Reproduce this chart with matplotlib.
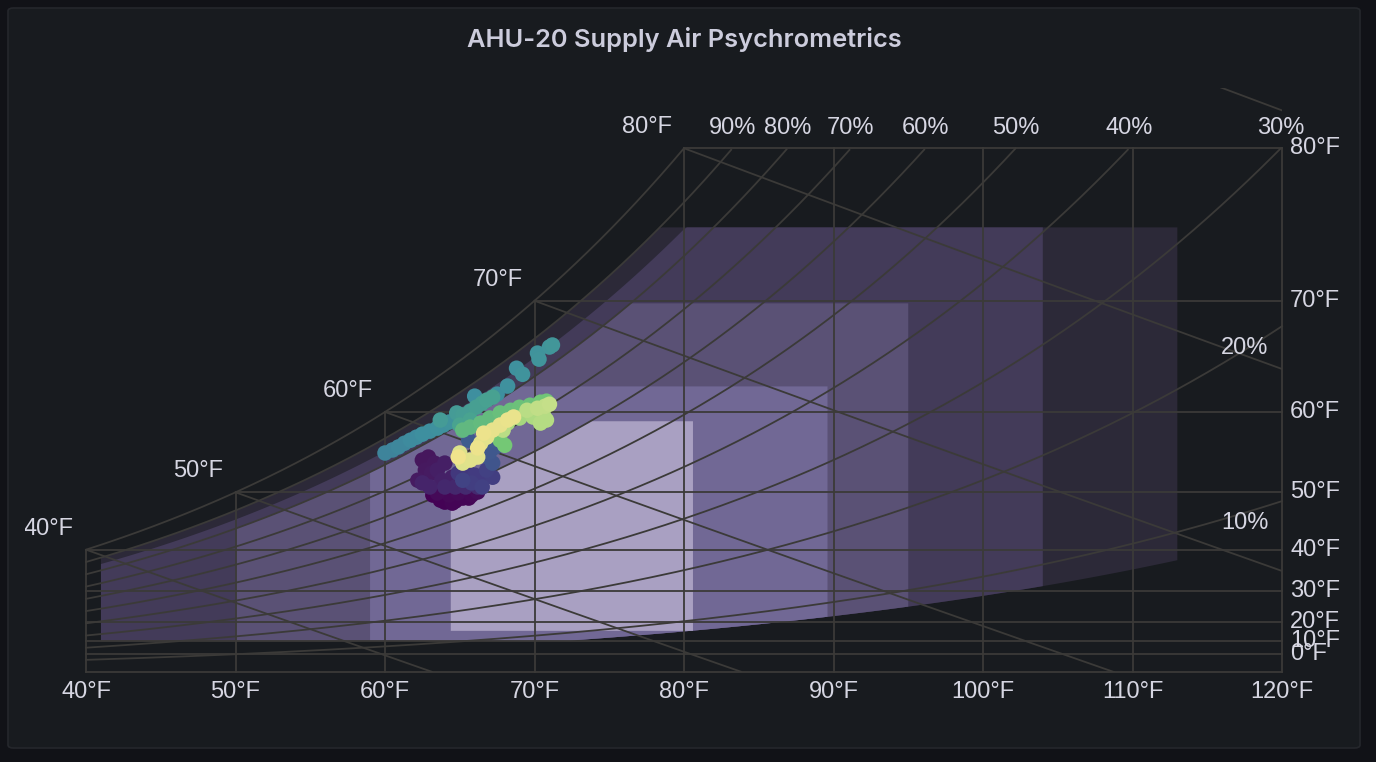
import numpy as np
import matplotlib
matplotlib.use("Agg")
import matplotlib.pyplot as plt
from matplotlib import colors, transforms
from matplotlib.patches import FancyBboxPatch, Polygon

P_ATM = 14.696  # psia

# chart grid
db_ticks = [40, 50, 60, 70, 80, 90, 100, 110, 120]
dp_ticks = [0, 10, 20, 30, 40, 50, 60, 70, 80]
wb_lines = [40, 50, 60, 70, 80, 90]
rh_lines = [10, 20, 30, 40, 50, 60, 70, 80, 90]
sat_labels = [40, 50, 60, 70, 80]

# ASHRAE data center envelopes (F / %RH)
env_names = ["A4", "A3", "A2", "A1", "Recommended"]
env_db_min = [41.0, 41.0, 50.0, 59.0, 64.4]
env_db_max = [113.0, 104.0, 95.0, 89.6, 80.6]
env_dp_min = [10.4, 10.4, 10.4, 10.4, 15.8]
env_rh_min = [8, 8, 8, 8, 0]
env_dp_max = [75.2, 75.2, 69.8, 62.6, 59.0]
env_rh_max = [90, 85, 80, 80, 60]
env_colors = ["#2c2938", "#433b59", "#5a5175", "#716895", "#a9a0c2"]

# supply air samples: dry bulb (F), humidity ratio (grains/lb), time (0 = oldest, 1 = newest)
supply_db = [63.2, 63.7, 64.0, 64.5, 64.7, 65.2, 65.6, 65.8, 64.3, 64.9, 63.5, 66.2,
             62.5, 62.9, 63.3, 62.7, 63.1, 62.2, 63.5, 64.0, 63.8, 64.5, 62.5, 63.0, 64.0, 64.7, 65.4, 66.2,
             64.9, 65.6, 66.0, 66.5, 67.2, 65.8, 66.5, 66.8, 65.2,
             66.9, 67.2, 67.4, 67.0, 65.6, 67.2,
             60.0, 60.5, 60.9, 61.3, 61.7, 62.1, 62.5, 63.0, 63.5, 63.9, 64.3, 64.8,
             66.0, 67.5, 68.2, 68.8, 69.2, 70.2, 70.3, 71.0, 71.2,
             63.7, 64.8, 65.2, 65.7, 66.1, 66.5, 66.8, 67.2, 65.0, 65.7,
             65.2, 65.7, 66.4, 67.0, 67.7, 68.4, 69.0, 69.7, 70.4, 70.8, 68.0, 67.7,
             68.2, 69.0, 69.9, 70.6, 70.8, 70.4, 67.9, 69.5, 70.2, 70.7, 71.0,
             65.0, 65.2, 65.7, 66.2, 66.4, 66.8, 67.2, 67.7, 68.2, 68.6, 66.6, 66.2, 64.9]
supply_gr = [52.6, 51.1, 50.5, 50.2, 50.8, 51.7, 51.7, 52.6, 52.6, 53.2, 53.2, 53.5,
             63.0, 63.9, 62.1, 60.0, 59.1, 57.0, 60.0, 62.1, 57.0, 57.9, 56.2, 55.0, 55.0, 55.0, 55.0, 55.0,
             59.1, 59.1, 58.5, 57.9, 57.9, 56.2, 55.0, 60.0, 57.0,
             63.9, 62.1, 66.9, 65.4, 68.9, 68.9,
             65.1, 66.0, 66.9, 68.0, 68.9, 69.8, 70.7, 71.6, 72.5, 73.4, 74.3, 75.5,
             82.0, 82.6, 85.0, 90.3, 88.5, 94.8, 93.0, 96.6, 97.2,
             74.9, 77.0, 76.4, 77.5, 78.7, 79.9, 80.8, 81.7, 73.4, 74.9,
             71.9, 72.8, 74.0, 75.5, 77.0, 77.8, 78.7, 79.3, 80.2, 80.5, 67.4, 68.9,
             74.0, 75.5, 75.8, 76.4, 74.9, 74.0, 71.9, 77.8, 78.4, 79.0, 79.6,
             65.1, 62.1, 63.0, 63.9, 68.0, 69.8, 71.9, 73.4, 74.9, 75.8, 71.0, 66.6, 63.9]
supply_t = [0.00, 0.01, 0.01, 0.02, 0.02, 0.03, 0.03, 0.04, 0.04, 0.05, 0.05, 0.06,
            0.12, 0.12, 0.13, 0.13, 0.14, 0.14, 0.15, 0.15, 0.16, 0.16, 0.17, 0.17, 0.18, 0.18, 0.19, 0.19,
            0.24, 0.24, 0.25, 0.25, 0.26, 0.26, 0.27, 0.27, 0.28,
            0.34, 0.34, 0.35, 0.35, 0.36, 0.36,
            0.47, 0.47, 0.48, 0.48, 0.49, 0.49, 0.50, 0.50, 0.51, 0.51, 0.52, 0.52,
            0.50, 0.50, 0.51, 0.51, 0.52, 0.52, 0.53, 0.53, 0.54,
            0.57, 0.57, 0.58, 0.58, 0.59, 0.59, 0.60, 0.60, 0.61, 0.61,
            0.68, 0.68, 0.69, 0.69, 0.70, 0.70, 0.71, 0.71, 0.72, 0.72, 0.73, 0.73,
            0.82, 0.82, 0.83, 0.83, 0.84, 0.84, 0.85, 0.85, 0.86, 0.86, 0.87,
            0.94, 0.94, 0.95, 0.95, 0.96, 0.96, 0.97, 0.97, 0.98, 0.98, 0.99, 0.99, 1.00]


def p_sat(t_f):
    t_f = np.asarray(t_f, dtype=float)
    t = t_f + 459.67
    water = np.exp(-1.0440397e4 / t - 1.1294650e1 - 2.7022355e-2 * t + 1.2890360e-5 * t**2
                   - 2.4780681e-9 * t**3 + 6.5459673 * np.log(t))
    ice = np.exp(-1.0214165e4 / t - 4.8932428 - 5.3765794e-3 * t + 1.9202377e-7 * t**2
                 + 3.5575832e-10 * t**3 - 9.0344688e-14 * t**4 + 4.1635019 * np.log(t))
    return np.where(t_f >= 32, water, ice)


def hum_ratio(pw):
    return 0.622 * pw / (P_ATM - pw)


def w_rh(t, rh):
    return hum_ratio(rh / 100.0 * p_sat(t))


def w_dp(dp):
    return hum_ratio(p_sat(dp))


def w_wb(t, twb):
    return ((1093 - 0.556 * twb) * w_dp(twb) - 0.240 * (t - twb)) / (1093 + 0.444 * t - twb)


W_TOP = w_dp(80)
GRID = "#3b3a38"
TXT = "#d6d6e2"

fig = plt.figure(figsize=(13.76, 7.62), dpi=100)
fig.patch.set_facecolor("#111217")
panel = FancyBboxPatch((8 / 1376, 14 / 762), 1352 / 1376, 740 / 762,
                       boxstyle="round,pad=0,rounding_size=0.004",
                       transform=fig.transFigure, facecolor="#181b1f",
                       edgecolor="#25272c", linewidth=1.2, zorder=-10)
fig.patches.append(panel)
fig.text(684 / 1376, 1 - 40 / 762, "AHU-20 Supply Air Psychrometrics", ha="center", va="center",
         fontsize=18.3, fontweight="semibold", family=["Inter", "DejaVu Sans"], color="#ccccdc")

ax = fig.add_axes([86 / 1376, 90 / 762, 1196 / 1376, 584 / 762])
ax.set_xlim(40, 120)
ax.set_ylim(0, 0.0248)
ax.axis("off")

# envelopes
for i in range(len(env_names)):
    t = np.linspace(env_db_min[i], env_db_max[i], 300)
    lo = np.maximum(w_dp(env_dp_min[i]), w_rh(t, env_rh_min[i]))
    hi = np.minimum(w_dp(env_dp_max[i]), w_rh(t, env_rh_max[i]))
    pts = np.vstack([np.column_stack([t, lo]), np.column_stack([t[::-1], hi[::-1]])])
    ax.add_patch(Polygon(pts, closed=True, facecolor=env_colors[i], edgecolor="none", zorder=1))

lw = 1.3
# saturation curve
t = np.linspace(40, 80, 300)
ax.plot(t, w_rh(t, 100), color=GRID, lw=lw, zorder=2, clip_on=False)
# dew point lines
for dp in dp_ticks:
    w = w_dp(dp)
    ax.plot([max(40, dp), 120], [w, w], color=GRID, lw=lw, zorder=2, clip_on=False)
ax.plot([40, 120], [0, 0], color=GRID, lw=lw, zorder=2, clip_on=False)
# dry bulb lines
for db in db_ticks:
    top = min(float(w_rh(db, 100)), float(W_TOP))
    ax.plot([db, db], [0, top], color=GRID, lw=lw, zorder=2, clip_on=False)
# relative humidity curves
t = np.linspace(40, 120, 800)
for rh in rh_lines:
    w = w_rh(t, rh)
    m = w <= W_TOP
    ax.plot(t[m], w[m], color=GRID, lw=lw, zorder=2, clip_on=False)
# wet bulb lines
for twb in wb_lines:
    t = np.linspace(twb, 120, 800)
    w = w_wb(t, twb)
    m = w >= 0
    ax.plot(t[m], w[m], color=GRID, lw=lw, zorder=2)


def shifted(dx, dy):
    return transforms.offset_copy(ax.transData, fig=fig, x=dx, y=dy, units="dots")


fs = 17
fam = ["Liberation Sans", "DejaVu Sans"]
for db in db_ticks:
    ax.text(db, 0, f"{db}°F", transform=shifted(0, -20), ha="center", va="center",
            fontsize=fs, family=fam, color=TXT)
for dp in dp_ticks:
    ax.text(120, w_dp(dp), f"{dp}°F", transform=shifted(8, 0), ha="left", va="center",
            fontsize=fs, family=fam, color=TXT, clip_on=False)
for st in sat_labels:
    lab = ax.text(st, w_rh(st, 100), f"{st}°F", transform=shifted(-12, 21), ha="right", va="center",
                  fontsize=fs, family=fam, color=TXT)
    if st == 40:
        # plot area of the panel starts just right of the panel edge
        lab.set_clip_box(transforms.Bbox([[25, 0], [1376, 762]]))
        lab.set_clip_on(True)
tt = np.linspace(40, 125, 4000)
for rh in rh_lines:
    cross = np.interp(W_TOP, w_rh(tt, rh), tt)
    if cross <= 120.05:
        ax.text(cross, W_TOP, f"{rh}%", transform=shifted(0, 20), ha="center", va="center",
                fontsize=fs, family=fam, color=TXT)
    else:
        ax.text(120, w_rh(120, rh), f"{rh}%", transform=shifted(-37, -22), ha="center", va="center",
                fontsize=fs, family=fam, color=TXT)

# supply air points
time_cmap = colors.LinearSegmentedColormap.from_list(
    "supply", ["#440154", "#46185e", "#423b80", "#3f5f90", "#3e8f9f", "#4aa58e",
               "#7ccf70", "#c8e08a", "#f0e38c"])
ax.scatter(supply_db, np.array(supply_gr) / 7000.0, c=supply_t, cmap=time_cmap, vmin=0, vmax=1,
           s=125, edgecolors="none", zorder=5)

fig.savefig("out.png", dpi=100, facecolor=fig.get_facecolor())
